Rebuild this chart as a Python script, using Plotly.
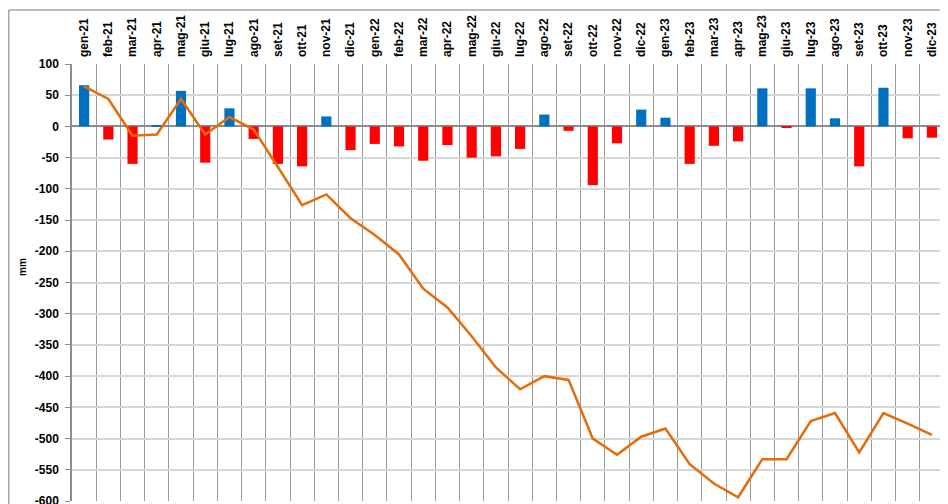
import plotly.graph_objects as go

months = ["gen-21", "feb-21", "mar-21", "apr-21", "mag-21", "giu-21", "lug-21", "ago-21",
          "set-21", "ott-21", "nov-21", "dic-21", "gen-22", "feb-22", "mar-22", "apr-22",
          "mag-22", "giu-22", "lug-22", "ago-22", "set-22", "ott-22", "nov-22", "dic-22",
          "gen-23", "feb-23", "mar-23", "apr-23", "mag-23", "giu-23", "lug-23", "ago-23",
          "set-23", "ott-23", "nov-23", "dic-23"]

monthly_anomaly = [66, -21, -60, 1, 57, -58, 29, -20,
                   -60, -64, 16, -38, -28, -32, -55, -30,
                   -50, -48, -36, 19, -7, -94, -27, 27,
                   14, -60, -31, -24, 61, -1, 61, 13,
                   -64, 62, -19, -18]

cumulative = [64, 44, -15, -13, 44, -13, 15, -5,
              -65, -126, -109, -147, -174, -205, -260, -290,
              -336, -386, -421, -400, -406, -500, -526, -497,
              -484, -541, -572, -594, -533, -533, -472, -459,
              -522, -459, -476, -494]

y_ticks = list(range(-600, 101, 50))

BLUE = "#0070C0"
RED = "#FF0000"
ORANGE = "#E46C0A"
bar_colors = [BLUE if v >= 0 else RED for v in monthly_anomaly]

fig = go.Figure()
fig.add_trace(go.Bar(
    x=months, y=monthly_anomaly, width=0.42,
    marker=dict(color=bar_colors, line=dict(width=0)),
    showlegend=False,
))
fig.add_trace(go.Scatter(
    x=months, y=cumulative, mode="lines",
    line=dict(color=ORANGE, width=2.5),
    showlegend=False,
))

# the page adds an 8px body margin; the figure extends below the window
# so that the bottom tick label is cut by the window like in the original
W, H = 940, 510
ml, mr, mt, mb = 64, 4, 56, 17
pw, ph = W - ml - mr, H - mt - mb

fig.update_layout(
    width=W, height=H, autosize=False,
    margin=dict(l=ml, r=mr, t=mt, b=mb, pad=0),
    paper_bgcolor="white", plot_bgcolor="white",
    font=dict(family="Liberation Sans, Arial, sans-serif", color="#000000"),
    xaxis=dict(
        type="category", side="top", tickangle=-90,
        tickson="boundaries", ticks="", showgrid=True,
        gridcolor="#9a9a9a", gridwidth=1,
        tickfont=dict(size=12, weight="bold", color="#000000"),
        range=[-0.5, 35.5], showline=False, zeroline=False,
        ticklabelstandoff=6, automargin=False,
    ),
    yaxis=dict(
        range=[-600, 100], tickvals=y_ticks, ticktext=[str(v) for v in y_ticks],
        showgrid=True, gridcolor="#d6d6d6", gridwidth=1.5,
        zeroline=True, zerolinecolor="#8c8c8c", zerolinewidth=2,
        showline=True, linecolor="#8c8c8c", linewidth=1.5,
        ticks="outside", ticklen=5, tickcolor="#8c8c8c",
        tickfont=dict(size=12, weight="bold", color="#000000"),
        ticklabelstandoff=4, automargin=False,
    ),
)

fig.add_annotation(
    text="mm", xref="paper", yref="paper",
    x=(14 - ml) / pw, y=(H - mb - 259) / ph,
    xanchor="center", yanchor="middle", textangle=-90, showarrow=False,
    font=dict(size=10, weight="bold", color="#000000"),
)

# outer chart-area border (top and left)
bx = (0.75 - ml) / pw
by = (H - mb - 2) / ph
fig.add_shape(type="line", xref="paper", yref="paper",
              x0=bx, x1=bx, y0=-0.2, y1=by,
              line=dict(color="#a6a6a6", width=1.5))
fig.add_shape(type="line", xref="paper", yref="paper",
              x0=bx, x1=1.1, y0=by, y1=by,
              line=dict(color="#a6a6a6", width=1.5))

fig.write_html("out.html")
